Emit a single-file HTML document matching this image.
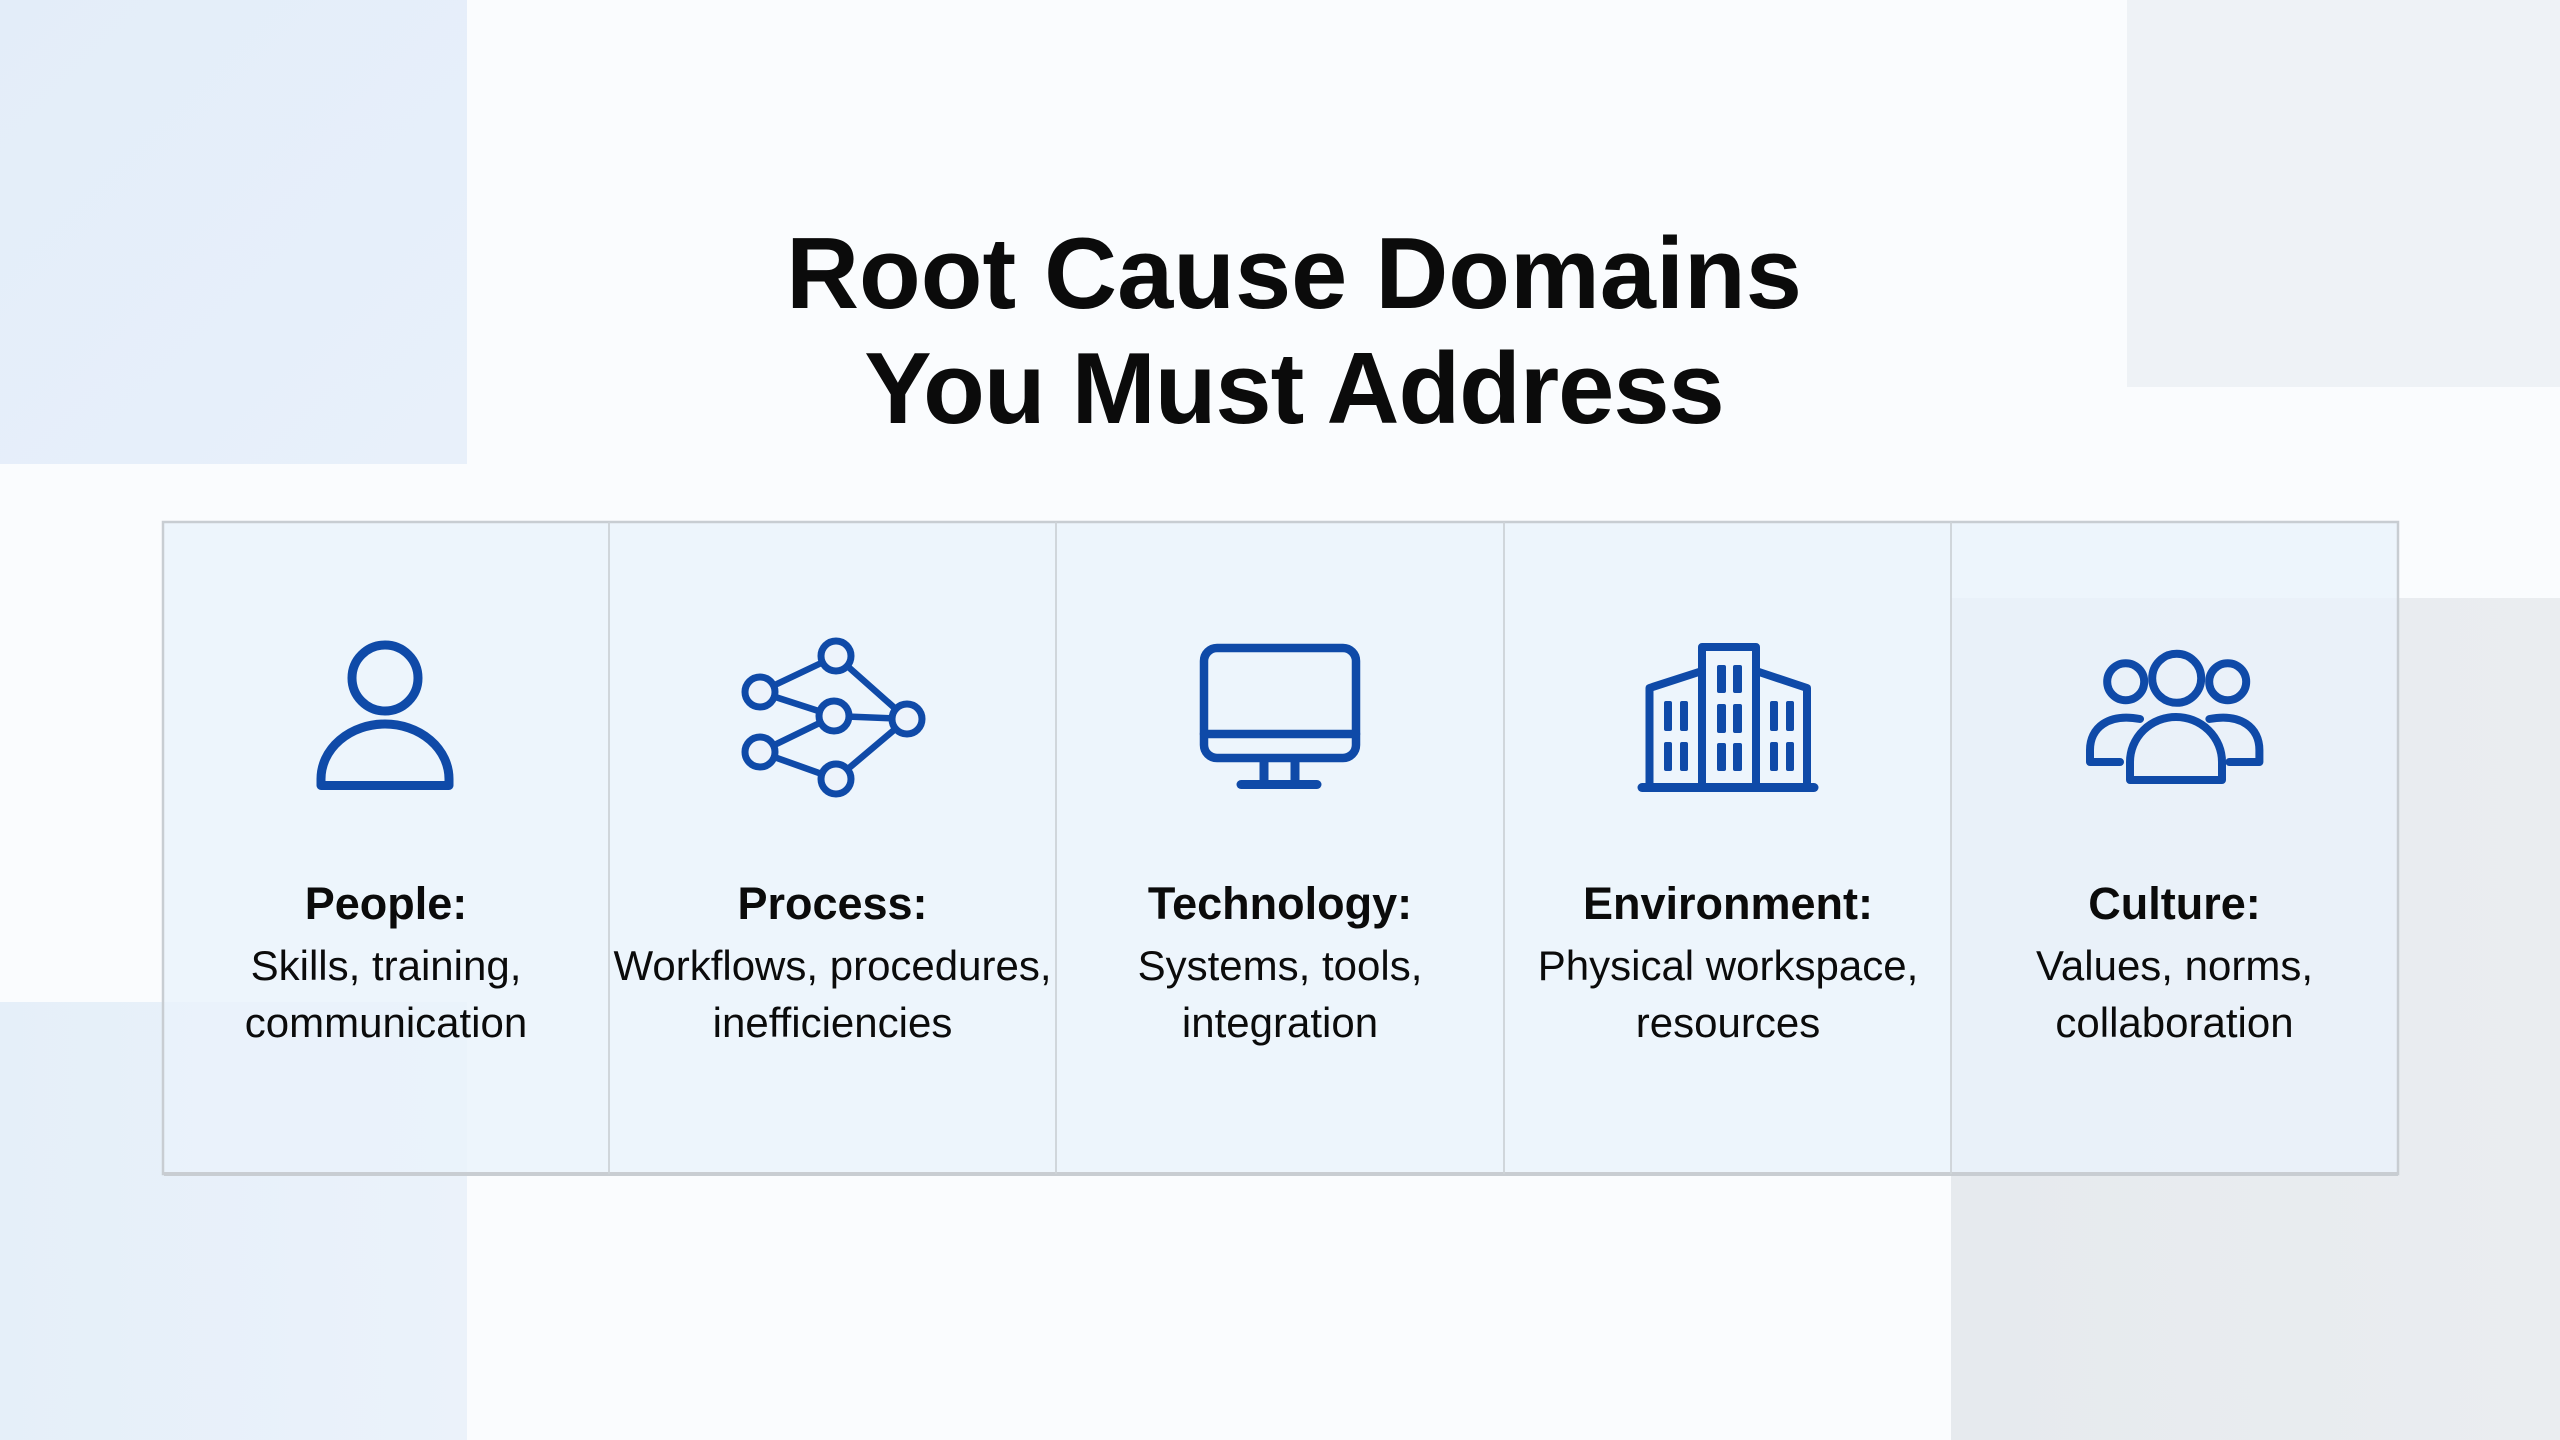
<!DOCTYPE html>
<html>
<head>
<meta charset="utf-8">
<style>
  html, body { margin: 0; padding: 0; width: 2560px; height: 1440px; overflow: hidden; background: #fafcfe; }
  svg { display: block; }
  .t { font-family: "Liberation Sans", Arial, sans-serif; fill: #0b0b0b; text-anchor: middle; }
</style>
</head>
<body>
<svg width="2560" height="1440" viewBox="0 0 2560 1440" xmlns="http://www.w3.org/2000/svg">
  <defs>
    <linearGradient id="gtl" x1="0" y1="0" x2="1" y2="1">
      <stop offset="0" stop-color="#e3edf9"/>
      <stop offset="1" stop-color="#e8f0fa"/>
    </linearGradient>
    <linearGradient id="gbl" x1="0" y1="0" x2="1" y2="0">
      <stop offset="0" stop-color="#e5eff9"/>
      <stop offset="1" stop-color="#ebf2fa"/>
    </linearGradient>
    <linearGradient id="gbr" x1="0" y1="0" x2="1" y2="0">
      <stop offset="0" stop-color="#e6eaee"/>
      <stop offset="1" stop-color="#eaedf0"/>
    </linearGradient>
  </defs>

  <!-- background -->
  <rect x="0" y="0" width="2560" height="1440" fill="#fafcfe"/>
  <rect x="0" y="0" width="467" height="464" fill="url(#gtl)"/>
  <rect x="2127" y="0" width="433" height="387" fill="#eef2f6"/>
  <rect x="0" y="1002" width="467" height="438" fill="url(#gbl)"/>
  <rect x="1951" y="598" width="609" height="842" fill="url(#gbr)"/>

  <!-- title -->
  <text class="t" x="1294" y="308" font-size="101" font-weight="bold">Root Cause Domains</text>
  <text class="t" x="1294" y="423" font-size="101" font-weight="bold" letter-spacing="-1">You Must Address</text>

  <!-- panel -->
  <rect x="163" y="522" width="2235" height="652" fill="rgb(234,242,251)" fill-opacity="0.8"/>
  <rect x="164" y="1172" width="2234" height="4" fill="#c9cdd2"/>
  <rect x="163" y="522" width="2235" height="652" fill="none" stroke="#c8cdd2" stroke-width="2.5"/>
  <g stroke="#cdd2d7" stroke-width="1.8">
    <line x1="609" y1="522" x2="609" y2="1174"/>
    <line x1="1056" y1="522" x2="1056" y2="1174"/>
    <line x1="1504" y1="522" x2="1504" y2="1174"/>
    <line x1="1951" y1="522" x2="1951" y2="1174"/>
  </g>

  <!-- icons -->
  <g fill="none" stroke="#0f4aa8" stroke-linejoin="round" stroke-linecap="round">
    <!-- People -->
    <circle cx="385" cy="678" r="33" stroke-width="9"/>
    <path d="M321,785.5 V779 A64,55 0 0 1 449,779 V785.5 Z" stroke-width="9"/>

    <!-- Process -->
    <g stroke-width="6.5">
      <line x1="760" y1="692" x2="836" y2="656"/>
      <line x1="760" y1="692" x2="834" y2="716"/>
      <line x1="760" y1="752" x2="834" y2="716"/>
      <line x1="760" y1="752" x2="836" y2="779"/>
      <line x1="836" y1="656" x2="907" y2="719"/>
      <line x1="834" y1="716" x2="907" y2="719"/>
      <line x1="836" y1="779" x2="907" y2="719"/>
    </g>
    <g stroke-width="7" fill="#edf3fb">
      <circle cx="836" cy="656" r="15"/>
      <circle cx="760" cy="692" r="15"/>
      <circle cx="834" cy="716" r="15"/>
      <circle cx="907" cy="719" r="15"/>
      <circle cx="760" cy="752" r="15"/>
      <circle cx="836" cy="779" r="15"/>
    </g>

    <!-- Technology -->
    <rect x="1204" y="648" width="152" height="110" rx="13" stroke-width="8.5"/>
    <line x1="1204" y1="734" x2="1356" y2="734" stroke-width="8.5"/>
    <line x1="1264" y1="762" x2="1264" y2="782" stroke-width="9" stroke-linecap="butt"/>
    <line x1="1295" y1="762" x2="1295" y2="782" stroke-width="9" stroke-linecap="butt"/>
    <line x1="1241" y1="784.5" x2="1317" y2="784.5" stroke-width="9"/>

    <!-- Environment -->
    <g stroke-width="8">
      <path d="M1702,787 V647 H1756 V787"/>
      <path d="M1702,671 L1649.5,688 V787"/>
      <path d="M1756,671 L1807,688 V787"/>
      <line x1="1642" y1="787.5" x2="1814" y2="787.5" stroke-width="9"/>
    </g>

    <!-- Culture -->
    <g stroke-width="8">
      <circle cx="2176.7" cy="678.3" r="24.5"/>
      <circle cx="2125.7" cy="681.7" r="18.5"/>
      <circle cx="2227.7" cy="681.7" r="18.5"/>
      <path d="M2130,780 V762 A46,45 0 0 1 2222,762 V780 Z"/>
      <path d="M2120,762 H2090 V750 C2090,728 2108,713 2140,719"/>
      <path d="M2229.4,762 H2259.4 V750 C2259.4,728 2241.4,713 2209.4,719"/>
    </g>
  </g>

  <!-- building windows -->
  <g fill="#0f4aa8">
    <rect x="1717" y="665" width="9" height="28" rx="2"/>
    <rect x="1733" y="665" width="9" height="28" rx="2"/>
    <rect x="1717" y="704" width="9" height="29" rx="2"/>
    <rect x="1733" y="704" width="9" height="29" rx="2"/>
    <rect x="1717" y="743" width="9" height="28" rx="2"/>
    <rect x="1733" y="743" width="9" height="28" rx="2"/>

    <rect x="1664" y="701" width="8" height="30" rx="2"/>
    <rect x="1680" y="701" width="8" height="30" rx="2"/>
    <rect x="1664" y="742" width="8" height="29" rx="2"/>
    <rect x="1680" y="742" width="8" height="29" rx="2"/>

    <rect x="1770" y="701" width="8" height="30" rx="2"/>
    <rect x="1786" y="701" width="8" height="30" rx="2"/>
    <rect x="1770" y="742" width="8" height="29" rx="2"/>
    <rect x="1786" y="742" width="8" height="29" rx="2"/>
  </g>

  <!-- labels -->
  <g class="t">
    <text class="t" x="386" y="919" font-size="45" font-weight="bold">People:</text>
    <text class="t" x="386" y="980" font-size="42">Skills, training,</text>
    <text class="t" x="386" y="1037" font-size="42">communication</text>

    <text class="t" x="832.5" y="919" font-size="45" font-weight="bold">Process:</text>
    <text class="t" x="832.5" y="980" font-size="42">Workflows, procedures,</text>
    <text class="t" x="832.5" y="1037" font-size="42">inefficiencies</text>

    <text class="t" x="1280" y="919" font-size="45" font-weight="bold">Technology:</text>
    <text class="t" x="1280" y="980" font-size="42">Systems, tools,</text>
    <text class="t" x="1280" y="1037" font-size="42">integration</text>

    <text class="t" x="1728" y="919" font-size="45" font-weight="bold">Environment:</text>
    <text class="t" x="1728" y="980" font-size="42">Physical workspace,</text>
    <text class="t" x="1728" y="1037" font-size="42">resources</text>

    <text class="t" x="2174.5" y="919" font-size="45" font-weight="bold">Culture:</text>
    <text class="t" x="2174.5" y="980" font-size="42">Values, norms,</text>
    <text class="t" x="2174.5" y="1037" font-size="42">collaboration</text>
  </g>
</svg>
</body>
</html>
